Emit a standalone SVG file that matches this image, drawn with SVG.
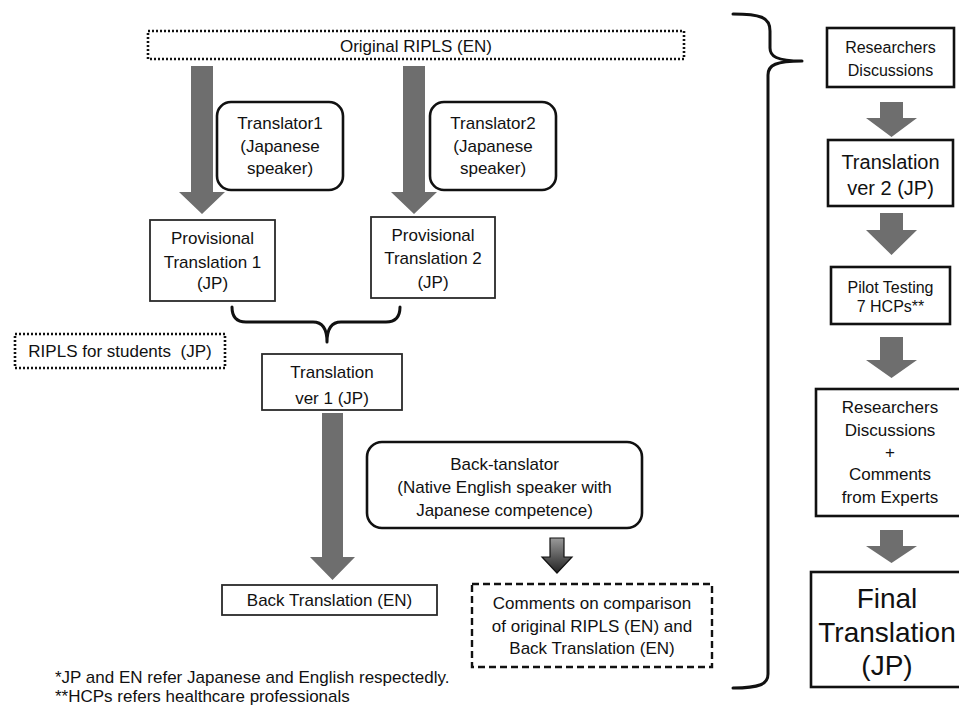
<svg xmlns="http://www.w3.org/2000/svg" width="959" height="705" viewBox="0 0 959 705">
<defs>
<style>
text{font-family:"Liberation Sans",Arial,sans-serif;fill:#111;text-anchor:middle;font-size:17px}
.box{fill:#fff;stroke:#2a2a2a;stroke-width:1.8}
.bold{fill:#fff;stroke:#111;stroke-width:2.6}
.round{fill:#fff;stroke:#111;stroke-width:2.6}
.dot{fill:#fff;stroke:#111;stroke-width:2.6;stroke-dasharray:2 2}
.dash{fill:#fff;stroke:#111;stroke-width:2.4;stroke-dasharray:7 4}
.arrow{fill:#6e6e6e}
.brace{fill:none;stroke:#111;stroke-width:3;stroke-linejoin:round;stroke-linecap:round}
</style>
<linearGradient id="g" x1="0" y1="0" x2="0" y2="1">
<stop offset="0" stop-color="#9a9a9a"/>
<stop offset="1" stop-color="#222"/>
</linearGradient>
</defs>
<rect width="959" height="705" fill="#fff"/>

<g id="connectors">
<polygon class="arrow" points="191,66 213,66 213,192 225,192 202,214 179,192 191,192"/>
<polygon class="arrow" points="403,66 425,66 425,192 437,192 414,214 391,192 403,192"/>
<polygon class="arrow" points="322,413 343,413 343,557 355,557 332.5,580 310,557 322,557"/>
<polygon points="550,538 564,538 564,557 572,557 557,573 542,557 550,557" fill="url(#g)" stroke="#111" stroke-width="1.2"/>
<polygon class="arrow" points="880,102 903,102 903,118 917,118 891.5,137 866,118 880,118"/>
<polygon class="arrow" points="880,213 903,213 903,230 917,230 891.5,255 866,230 880,230"/>
<polygon class="arrow" points="880,337 903,337 903,360 917,360 891.5,378 866,360 880,360"/>
<polygon class="arrow" points="880,530 903,530 903,546 917,546 891.5,563 866,546 880,546"/>
<path class="brace" d="M232,307 Q232,322 246,322 L313,322 Q327,322 327,342 Q327,322 341,322 L386,322 Q400,322 400,307"/>
<path class="brace" d="M733,14 C760,14 770,17 770,31 L770,48 C770,56 776,61 802,61 C776,61 768,65 768,75 L768,674 C768,684 760,688 733,688"/>
</g>

<g id="original">
<rect class="dot" x="148" y="31" width="536" height="28"/>
<text x="416" y="52">Original RIPLS (EN)</text>
</g>

<g id="translator1">
<rect class="round" x="217" y="102" width="126" height="88" rx="14"/>
<text x="280" y="129">Translator1</text>
<text x="280" y="152">(Japanese</text>
<text x="280" y="174">speaker)</text>
</g>

<g id="translator2">
<rect class="round" x="430" y="102" width="126" height="88" rx="14"/>
<text x="493" y="129">Translator2</text>
<text x="493" y="152">(Japanese</text>
<text x="493" y="174">speaker)</text>
</g>

<g id="prov1">
<rect class="box" x="150" y="220" width="125" height="81"/>
<text x="212.5" y="244">Provisional</text>
<text x="212.5" y="268">Translation 1</text>
<text x="212.5" y="289">(JP)</text>
</g>

<g id="prov2">
<rect class="box" x="371" y="217" width="124" height="81"/>
<text x="433" y="241">Provisional</text>
<text x="433" y="264">Translation 2</text>
<text x="433" y="288">(JP)</text>
</g>

<g id="ripls-students">
<rect class="dot" x="15" y="334" width="210" height="34"/>
<text x="120" y="357" xml:space="preserve">RIPLS for students  (JP)</text>
</g>

<g id="translation-v1">
<rect class="box" x="262" y="354" width="140" height="56"/>
<text x="332" y="378">Translation</text>
<text x="332" y="404">ver 1 (JP)</text>
</g>

<g id="back-translator">
<rect class="round" x="367" y="442" width="275" height="86" rx="15"/>
<text x="504.5" y="470">Back-tanslator</text>
<text x="504.5" y="493">(Native English speaker with</text>
<text x="504.5" y="516">Japanese competence)</text>
</g>

<g id="back-translation">
<rect class="box" x="222" y="585" width="215" height="30"/>
<text x="329.5" y="606">Back Translation (EN)</text>
</g>

<g id="comments">
<rect class="dash" x="472" y="584" width="240" height="83"/>
<text x="592" y="609">Comments on comparison</text>
<text x="592" y="632">of original RIPLS (EN) and</text>
<text x="592" y="654">Back Translation (EN)</text>
</g>

<g id="researchers1">
<rect class="bold" x="827" y="28" width="127" height="59"/>
<text x="890.5" y="53" style="font-size:16px">Researchers</text>
<text x="890.5" y="76" style="font-size:16px">Discussions</text>
</g>

<g id="translation-v2">
<rect class="bold" x="828" y="140" width="125" height="66"/>
<text x="890.5" y="169" style="font-size:20px">Translation</text>
<text x="890.5" y="195" style="font-size:20px">ver 2 (JP)</text>
</g>

<g id="pilot">
<rect class="bold" x="831" y="267" width="119" height="57"/>
<text x="890.5" y="293" style="font-size:16px">Pilot Testing</text>
<text x="890.5" y="312" style="font-size:16px">7 HCPs**</text>
</g>

<g id="researchers2">
<rect class="bold" x="816" y="389" width="148" height="127"/>
<text x="890" y="413">Researchers</text>
<text x="890" y="436">Discussions</text>
<text x="890" y="458">+</text>
<text x="890" y="480">Comments</text>
<text x="890" y="503">from Experts</text>
</g>

<g id="final">
<rect class="bold" x="811" y="572" width="152" height="115"/>
<text x="887" y="608" style="font-size:28px">Final</text>
<text x="887" y="642" style="font-size:28px">Translation</text>
<text x="887" y="675" style="font-size:28px">(JP)</text>
</g>

<g id="footnotes">
<text x="55" y="683" style="text-anchor:start">*JP and EN refer Japanese and English respectedly.</text>
<text x="55" y="702" style="text-anchor:start">**HCPs refers healthcare professionals</text>
</g>
</svg>
